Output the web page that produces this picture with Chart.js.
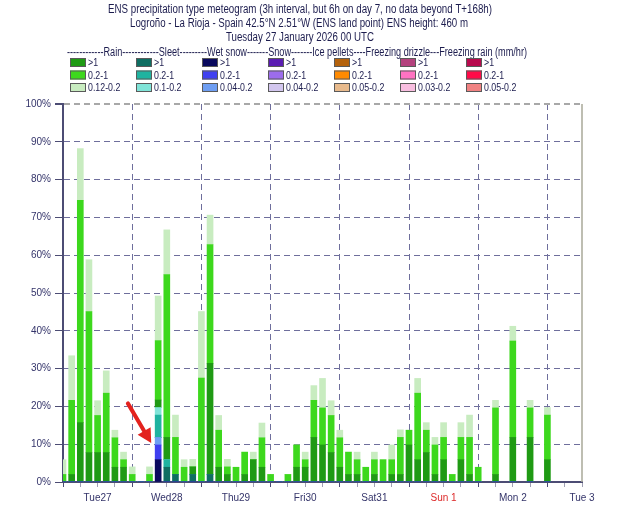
<!DOCTYPE html>
<html>
<head>
<meta charset="utf-8">
<script src="https://cdn.jsdelivr.net/npm/chart.js@4.4.1/dist/chart.umd.min.js"></script>
<style>
  html, body { margin: 0; padding: 0; background: #fff; }
  #wrap { width: 630px; height: 525px; }
</style>
</head>
<body>
<div id="wrap"><canvas id="meteogram" width="630" height="525"></canvas></div>
<script>
// day labels sit at 12 UTC of each day (every 8th 3h slot)
var dayLabels = ['Tue27', 'Wed28', 'Thu29', 'Fri30', 'Sat31', 'Sun 1', 'Mon 2', 'Tue 3'];

// % of members, 3h slots from T+0 to T+180 (6-hourly on day 7, nothing after T+168)
var rainHeavy = [
  0, 2.0, 15.7, 7.8, 7.8, 7.8, 3.9, 3.9,
  0, 0, 0, 2.0, 5.9, 0, 0, 2.0,
  0, 29.4, 3.9, 2.0, 0, 2.0, 5.9, 3.9,
  0, 0, 0, 3.9, 3.9, 11.8, 9.8, 7.8,
  3.9, 2.0, 2.0, 0, 2.0, 0, 2.0, 2.0,
  9.8, 5.9, 7.8, 2.0, 5.9, 0, 5.9, 2.0,
  0, null, 2.0, null, 11.8, null, 11.8, null,
  5.9, null, null, null, null
];
var rainMid = [
  2.0, 19.6, 58.8, 37.3, 9.8, 15.7, 7.8, 2.0,
  2.0, 0, 2.0, 15.7, 43.1, 9.8, 3.9, 0,
  27.5, 31.4, 9.8, 2.0, 3.9, 5.9, 0, 7.8,
  2.0, 0, 2.0, 5.9, 2.0, 9.8, 9.8, 9.8,
  7.8, 5.9, 3.9, 3.9, 3.9, 5.9, 3.9, 9.8,
  3.9, 17.6, 5.9, 7.8, 5.9, 2.0, 5.9, 9.8,
  3.9, null, 17.6, null, 25.5, null, 7.8, null,
  11.8, null, null, null, null
];
var rainLight = [
  3.9, 11.8, 13.7, 13.7, 3.9, 5.9, 2.0, 2.0,
  2.0, 0, 2.0, 11.8, 11.8, 5.9, 2.0, 2.0,
  17.6, 7.8, 3.9, 2.0, 0, 0, 2.0, 3.9,
  0, 0, 0, 0, 2.0, 3.9, 7.8, 3.9,
  2.0, 0, 2.0, 0, 2.0, 0, 3.9, 2.0,
  0, 3.9, 2.0, 2.0, 3.9, 0, 3.9, 5.9,
  0, null, 2.0, null, 3.9, null, 2.0, null,
  2.0, null, null, null, null
];
var sleetHeavy = [
  0, 0, 0, 0, 0, 0, 0, 0,
  0, 0, 0, 0, 3.9, 2.0, 0, 2.0,
  0, 2.0, 0, 0, 0, 0, 0, 0,
  0, 0, 0, 0, 0, 0, 0, 0,
  0, 0, 0, 0, 0, 0, 0, 0,
  0, 0, 0, 0, 0, 0, 0, 0,
  0, null, 0, null, 0, null, 0, null,
  0, null, null, null, null
];
var sleetMid = [
  0, 0, 0, 0, 0, 0, 0, 0,
  0, 0, 0, 5.9, 2.0, 0, 0, 0,
  0, 0, 0, 0, 0, 0, 0, 0,
  0, 0, 0, 0, 0, 0, 0, 0,
  0, 0, 0, 0, 0, 0, 0, 0,
  0, 0, 0, 0, 0, 0, 0, 0,
  0, null, 0, null, 0, null, 0, null,
  0, null, null, null, null
];
var sleetLight = [
  0, 0, 0, 0, 0, 0, 0, 0,
  0, 0, 0, 2.0, 0, 0, 0, 0,
  0, 0, 0, 0, 0, 0, 0, 0,
  0, 0, 0, 0, 0, 0, 0, 0,
  0, 0, 0, 0, 0, 0, 0, 0,
  0, 0, 0, 0, 0, 0, 0, 0,
  0, null, 0, null, 0, null, 0, null,
  0, null, null, null, null
];
var wetSnowHeavy = [
  0, 0, 0, 0, 0, 0, 0, 0,
  0, 0, 0, 5.9, 0, 0, 0, 0,
  0, 0, 0, 0, 0, 0, 0, 0,
  0, 0, 0, 0, 0, 0, 0, 0,
  0, 0, 0, 0, 0, 0, 0, 0,
  0, 0, 0, 0, 0, 0, 0, 0,
  0, null, 0, null, 0, null, 0, null,
  0, null, null, null, null
];
var wetSnowMid = [
  0, 0, 0, 0, 0, 0, 0, 0,
  0, 0, 0, 3.9, 0, 0, 0, 0,
  0, 0, 0, 0, 0, 0, 0, 0,
  0, 0, 0, 0, 0, 0, 0, 0,
  0, 0, 0, 0, 0, 0, 0, 0,
  0, 0, 0, 0, 0, 0, 0, 0,
  0, null, 0, null, 0, null, 0, null,
  0, null, null, null, null
];
var wetSnowLight = [
  0, 0, 0, 0, 0, 0, 0, 0,
  0, 0, 0, 2.0, 0, 0, 0, 0,
  0, 0, 0, 0, 0, 0, 0, 0,
  0, 0, 0, 0, 0, 0, 0, 0,
  0, 0, 0, 0, 0, 0, 0, 0,
  0, 0, 0, 0, 0, 0, 0, 0,
  0, null, 0, null, 0, null, 0, null,
  0, null, null, null, null
];

var titleLines = [
  'ENS precipitation type meteogram (3h interval, but 6h on day 7, no data beyond T+168h)',
  'Logroño - La Rioja - Spain 42.5°N 2.51°W (ENS land point) ENS height: 460 m',
  'Tuesday 27 January 2026 00 UTC'
];
var legendHeader = '------------Rain------------Sleet---------Wet snow-------Snow-------Ice pellets----Freezing drizzle---Freezing rain (mm/hr)';
var legendRanges = [
  ['>1', '0.2-1', '0.12-0.2'],
  ['>1', '0.2-1', '0.1-0.2'],
  ['>1', '0.2-1', '0.04-0.2'],
  ['>1', '0.2-1', '0.04-0.2'],
  ['>1', '0.2-1', '0.05-0.2'],
  ['>1', '0.2-1', '0.03-0.2'],
  ['>1', '0.2-1', '0.05-0.2']
];
var legendColors = [
  ['#1f9a14', '#3dd81d', '#c8ecc0'],   // rain
  ['#0f6e62', '#1fb3a0', '#80e4d8'],   // sleet
  ['#0a0a5e', '#3f3ff0', '#6e9ef2'],   // wet snow
  ['#5a1cb2', '#9c6cec', '#d2c6ee'],   // snow
  ['#b4620c', '#ff8a00', '#e8ba8c'],   // ice pellets
  ['#b4427e', '#ff72c2', '#f8bee0'],   // freezing drizzle
  ['#b80a4e', '#ff0a48', '#f08282']    // freezing rain
];

// where the red arrow points (slot index, %)
var arrowTail = [7.5, 20.8];
var arrowTip = [10.2, 10.3];

var hours = [];
for (var h = 0; h <= 180; h += 3) hours.push(h);

var FONT = "'Liberation Sans Narrow', 'Liberation Sans', Arial, sans-serif";
var gridCol = '#6e6e9c';
var axisCol = '#4c4c74';

function stackSet(label, data, color) {
  return {
    label: label,
    data: data,
    backgroundColor: color,
    borderWidth: 0,
    barThickness: 6,
    clip: 0
  };
}

var decor = {
  id: 'decor',
  afterDatasetsDraw: function(chart) {
    var ctx = chart.ctx;
    var xs = chart.scales.x, ys = chart.scales.y;
    var area = chart.chartArea;
    ctx.save();

    // right frame
    ctx.strokeStyle = '#a8a898';
    ctx.lineWidth = 1.5;
    ctx.beginPath();
    ctx.moveTo(area.right, area.top);
    ctx.lineTo(area.right, area.bottom);
    ctx.stroke();

    // red arrow
    var tx = xs.getPixelForValue(arrowTip[0]), ty = ys.getPixelForValue(arrowTip[1]);
    var sx = xs.getPixelForValue(arrowTail[0]), sy = ys.getPixelForValue(arrowTail[1]);
    var ang = Math.atan2(ty - sy, tx - sx);
    var bx = tx - 14 * Math.cos(ang), by = ty - 14 * Math.sin(ang);
    ctx.strokeStyle = '#e3221e';
    ctx.fillStyle = '#e3221e';
    ctx.lineWidth = 4;
    ctx.lineCap = 'round';
    ctx.beginPath();
    ctx.moveTo(sx, sy);
    ctx.lineTo(bx, by);
    ctx.stroke();
    ctx.beginPath();
    ctx.moveTo(tx, ty);
    ctx.lineTo(bx + 7.5 * Math.sin(ang), by - 7.5 * Math.cos(ang));
    ctx.lineTo(bx - 7.5 * Math.sin(ang), by + 7.5 * Math.cos(ang));
    ctx.closePath();
    ctx.fill();
    ctx.restore();
  },
  afterDraw: function(chart) {
    var ctx = chart.ctx;
    ctx.save();
    ctx.fillStyle = '#1c1c4e';
    ctx.textBaseline = 'middle';
    ctx.textAlign = 'center';
    ctx.font = "12px 'Liberation Sans', Arial, sans-serif";
    ctx.fillText(titleLines[0], 300, 10, 384);
    ctx.fillText(titleLines[1], 299, 23.5, 338);
    ctx.fillText(titleLines[2], 300, 37.5, 148);

    ctx.textAlign = 'left';
    ctx.fillText(legendHeader, 67, 53, 460);

    ctx.font = "11px 'Liberation Sans', Arial, sans-serif";
    for (var c = 0; c < legendColors.length; c++) {
      for (var r = 0; r < 3; r++) {
        var lx = 70 + 66 * c, ly = 58 + 12.5 * r;
        ctx.fillStyle = legendColors[c][r];
        ctx.fillRect(lx, ly, 16, 9);
        ctx.strokeStyle = '#5a5a5a';
        ctx.lineWidth = 1;
        ctx.strokeRect(lx + 0.5, ly + 0.5, 15, 8);
        ctx.fillStyle = '#1c1c4e';
        var txt = legendRanges[c][r];
        ctx.fillText(txt, lx + 18, ly + 5, ctx.measureText(txt).width * 0.8);
      }
    }
    ctx.restore();
  }
};

const ctx = document.getElementById('meteogram');
var chart = new Chart(ctx, {
  type: 'bar',
  data: {
    labels: hours,
    datasets: [
      stackSet('Wet snow >1', wetSnowHeavy, legendColors[2][0]),
      stackSet('Wet snow 0.2-1', wetSnowMid, legendColors[2][1]),
      stackSet('Wet snow 0.04-0.2', wetSnowLight, legendColors[2][2]),
      stackSet('Sleet >1', sleetHeavy, legendColors[1][0]),
      stackSet('Sleet 0.2-1', sleetMid, legendColors[1][1]),
      stackSet('Sleet 0.1-0.2', sleetLight, legendColors[1][2]),
      stackSet('Rain >1', rainHeavy, legendColors[0][0]),
      stackSet('Rain 0.2-1', rainMid, legendColors[0][1]),
      stackSet('Rain 0.12-0.2', rainLight, legendColors[0][2])
    ]
  },
  options: {
    responsive: false,
    animation: false,
    layout: { padding: { left: 0, right: 48, top: 104, bottom: 0 } },
    plugins: {
      legend: { display: false },
      tooltip: { enabled: false },
      title: { display: false }
    },
    scales: {
      x: {
        stacked: true,
        offset: false,
        afterFit: function(s) { s.height = 43; },
        grid: {
          offset: false,
          color: function(c) {
            return (c.index % 8 === 0 && c.index > 0 && c.index < 60) ? gridCol : 'rgba(0,0,0,0)';
          },
          lineWidth: 1,
          drawTicks: true,
          tickLength: 5,
          tickBorderDash: [],
          tickColor: function(c) {
            if (c.index % 8 === 0) return axisCol;
            if (c.index % 2 === 0) return '#a0a0b4';
            return 'rgba(0,0,0,0)';
          }
        },
        border: { display: true, color: axisCol, width: 2, dash: [6, 4] },
        ticks: {
          autoSkip: false,
          maxRotation: 0,
          padding: 5,
          font: { family: FONT, size: 10 },
          color: function(c) { return c.index === 44 ? '#dd2a2a' : '#34346a'; },
          callback: function(v, i) { return i % 8 === 4 ? dayLabels[(i - 4) / 8] : ''; }
        }
      },
      y: {
        stacked: true,
        min: 0,
        max: 100,
        afterFit: function(s) { s.width = 63; },
        grid: {
          color: function(c) {
            if (c.tick && c.tick.value === 100) return '#a8a8a8';
            return c.tick && c.tick.value === 0 ? 'rgba(0,0,0,0)' : gridCol;
          },
          lineWidth: function(c) { return c.tick && c.tick.value === 100 ? 2 : 1; },
          drawTicks: true,
          tickLength: 8,
          tickBorderDash: [],
          tickColor: axisCol
        },
        border: { display: true, color: axisCol, width: 2, dash: [6, 4] },
        ticks: {
          stepSize: 10,
          padding: 4,
          font: { family: FONT, size: 10 },
          color: '#34346a',
          callback: function(v) { return v + '%'; }
        }
      }
    }
  },
  plugins: [decor]
});
</script>
</body>
</html>
